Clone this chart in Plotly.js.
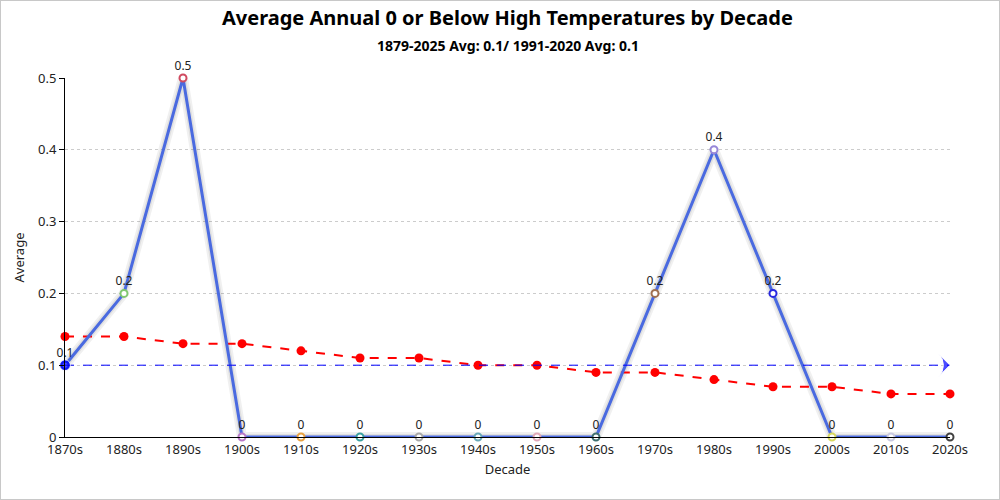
<!DOCTYPE html>
<html>
<head>
<meta charset="utf-8">
<script src="https://cdn.plot.ly/plotly-3.0.1.min.js"></script>
<style>
html,body{margin:0;padding:0;background:#fff;}
#chart{width:998px;height:498px;border:1px solid #c8c8c8;}
</style>
</head>
<body>
<div id="chart"></div>
<script>
const decades = ["1870s","1880s","1890s","1900s","1910s","1920s","1930s","1940s","1950s","1960s","1970s","1980s","1990s","2000s","2010s","2020s"];
const averages = [0.1,0.2,0.5,0,0,0,0,0,0,0,0.2,0.4,0.2,0,0,0];
const movingAvg = [0.14,0.14,0.13,0.13,0.12,0.11,0.11,0.10,0.10,0.09,0.09,0.08,0.07,0.07,0.06,0.06];
const markerColors = ["#3050e0","#80c870","#d04a60","#b878c8","#e8a040","#3aa0a0","#a8a8a8","#68a8b8","#e0a8b8","#3f7070","#a07050","#9888d8","#2828e0","#d8d860","#c8c8e0","#404040"];
const overallAvg = 0.1;
const labels = averages.map(v => String(v));
const avgX = [decades[0], decades[decades.length-1]];
const avgY = [overallAvg, overallAvg];
const titleText = 'Average Annual 0 or Below High Temperatures by Decade';
const subtitleText = '1879-2025 Avg: 0.1/ 1991-2020 Avg: 0.1';

const font = '"Noto Sans", "Open Sans", sans-serif';

const traces = [
  {
    x: decades, y: averages, mode: 'lines', type: 'scatter',
    line: {color: 'rgba(0,0,0,0.06)', width: 10}, hoverinfo: 'skip', cliponaxis: false
  },
  {
    x: decades, y: averages, mode: 'lines', type: 'scatter',
    line: {color: 'rgba(0,0,0,0.07)', width: 6}, hoverinfo: 'skip', cliponaxis: false
  },
  {
    x: decades, y: movingAvg, mode: 'lines+markers', type: 'scatter',
    line: {color: '#ff0000', width: 2, dash: 'dash'},
    marker: {color: '#ff0000', size: 9}, cliponaxis: false
  },
  {
    x: decades, y: averages, mode: 'lines+markers+text', type: 'scatter',
    line: {color: '#4a6ae0', width: 3},
    marker: {color: '#ffffff', size: 7, line: {color: markerColors, width: 2}},
    text: labels, textposition: 'top center',
    textfont: {family: font, size: 12, color: '#222'},
    cliponaxis: false
  },
  {
    x: avgX, y: avgY, mode: 'lines+markers', type: 'scatter',
    line: {color: '#0000ff', width: 1, dash: 'dash'},
    marker: {color: '#0000ff', size: [11, 16], symbol: ['circle', 'arrow-wide'], angle: [0, 90]},
    cliponaxis: false
  }
];

const layout = {
  width: 998, height: 498,
  margin: {l: 64, r: 49, t: 77, b: 62},
  paper_bgcolor: '#ffffff', plot_bgcolor: '#ffffff',
  showlegend: false,
  font: {family: font, size: 13, color: '#222'},
  annotations: [
    {text: '<b>' + titleText + '</b>', xref: 'paper', yref: 'paper', x: 0.5, y: 1, yshift: 61,
     xanchor: 'center', yanchor: 'middle', showarrow: false, font: {family: font, size: 20, color: '#000'}},
    {text: '<b>' + subtitleText + '</b>', xref: 'paper', yref: 'paper', x: 0.5, y: 1, yshift: 33,
     xanchor: 'center', yanchor: 'middle', showarrow: false, font: {family: font, size: 14, color: '#000'}}
  ],
  xaxis: {
    type: 'category', range: [0, decades.length - 1],
    showgrid: false, zeroline: false,
    showline: true, linecolor: '#000', linewidth: 1,
    ticks: '', tickfont: {family: font, size: 13, color: '#222'},
    title: {text: 'Decade', font: {family: font, size: 13, color: '#222'}, standoff: 8}
  },
  yaxis: {
    range: [0, 0.5], tickvals: [0, 0.1, 0.2, 0.3, 0.4, 0.5],
    ticktext: ['0', '0.1', '0.2', '0.3', '0.4', '0.5'],
    showgrid: true, gridcolor: '#cccccc', griddash: 'dot', gridwidth: 1,
    zeroline: false, showline: true, linecolor: '#000', linewidth: 1,
    ticks: 'outside', ticklen: 5, tickcolor: '#000',
    tickfont: {family: font, size: 13, color: '#222'},
    title: {text: 'Average', font: {family: font, size: 13, color: '#222'}, standoff: 10}
  }
};

Plotly.newPlot('chart', traces, layout, {displayModeBar: false, staticPlot: true});
</script>
</body>
</html>
